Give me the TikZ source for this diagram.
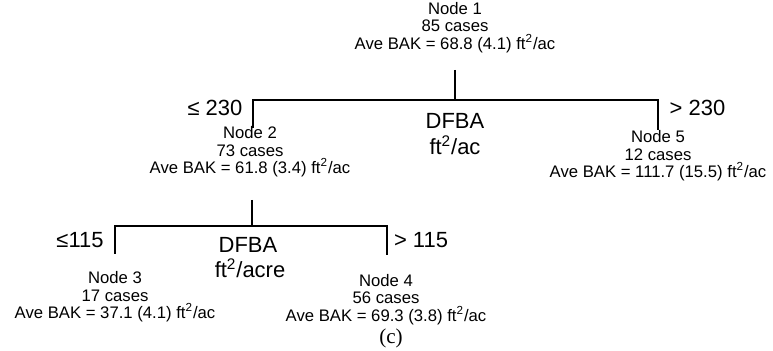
\documentclass[tikz,border=0pt]{standalone}
\usepackage{fontspec}
\setmainfont{Liberation Sans}
\newfontfamily\capfont{Liberation Serif}
\begin{document}
\begin{tikzpicture}[
  case/.style={align=center,inner sep=0pt,font=\fontsize{9.5}{9.9}\selectfont},
  splitvar/.style={align=center,inner sep=0pt,font=\fontsize{12.5}{13}\selectfont},
  cond/.style={inner sep=0pt,font=\fontsize{12.5}{13}\selectfont},
  branch/.style={thick}]
\useasboundingbox (0,0) rectangle (15.46,7.02);
%\draw[step=0.5cm,gray,very thin] (0,0) grid (15.5,7); %background grid
\node[case] (n1) at (9.10,6.47) {Node 1\\85 cases\\Ave BAK = 68.8 (4.1) ft\textsuperscript{2}/ac};
\node[case] (n2) at (5.00,3.98) {Node 2\\73 cases\\Ave BAK = 61.8 (3.4) ft\textsuperscript{2}/ac};
\node[case] (n5) at (13.16,3.90) {Node 5\\12 cases\\Ave BAK = 111.7 (15.5) ft\textsuperscript{2}/ac};
\node[case] (n3) at (2.30,1.08) {Node 3\\17 cases\\Ave BAK = 37.1 (4.1) ft\textsuperscript{2}/ac};
\node[case] (n4) at (7.72,1.03) {Node 4\\56 cases\\Ave BAK = 69.3 (3.8) ft\textsuperscript{2}/ac};
% first split
\coordinate (t1) at (9.10,5.62);
\coordinate (s1) at (9.10,5.02);
\coordinate (b2) at (5.06,4.46);
\coordinate (b5) at (13.16,4.42);
\draw[branch] (t1) -- (s1);
\draw[branch] (b2) |- (s1) -| (b5);
\node[splitvar] (v1) at (9.10,4.60) {DFBA};
\node[splitvar] (u1) at (9.10,4.12) {ft\textsuperscript{2}/ac};
\node[cond] (c2) at (4.30,4.86) {≤ 230};
\node[cond] (c5) at (13.95,4.86) {> 230};
% second split
\coordinate (t2) at (5.04,3.02);
\coordinate (s2) at (5.04,2.50);
\coordinate (b3) at (2.30,1.94);
\coordinate (b4) at (7.74,1.92);
\draw[branch] (t2) -- (s2);
\draw[branch] (b3) |- (s2) -| (b4);
\node[splitvar] (v2) at (4.96,2.12) {DFBA};
\node[splitvar] (u2) at (5.00,1.66) {ft\textsuperscript{2}/acre};
\node[cond] (c3) at (1.60,2.22) {≤115};
\node[cond] (c4) at (8.42,2.22) {> 115};
\node[inner sep=0pt,font=\capfont\fontsize{12}{13}\selectfont] (cap) at (7.82,0.25) {(c)};
\end{tikzpicture}
\end{document}
